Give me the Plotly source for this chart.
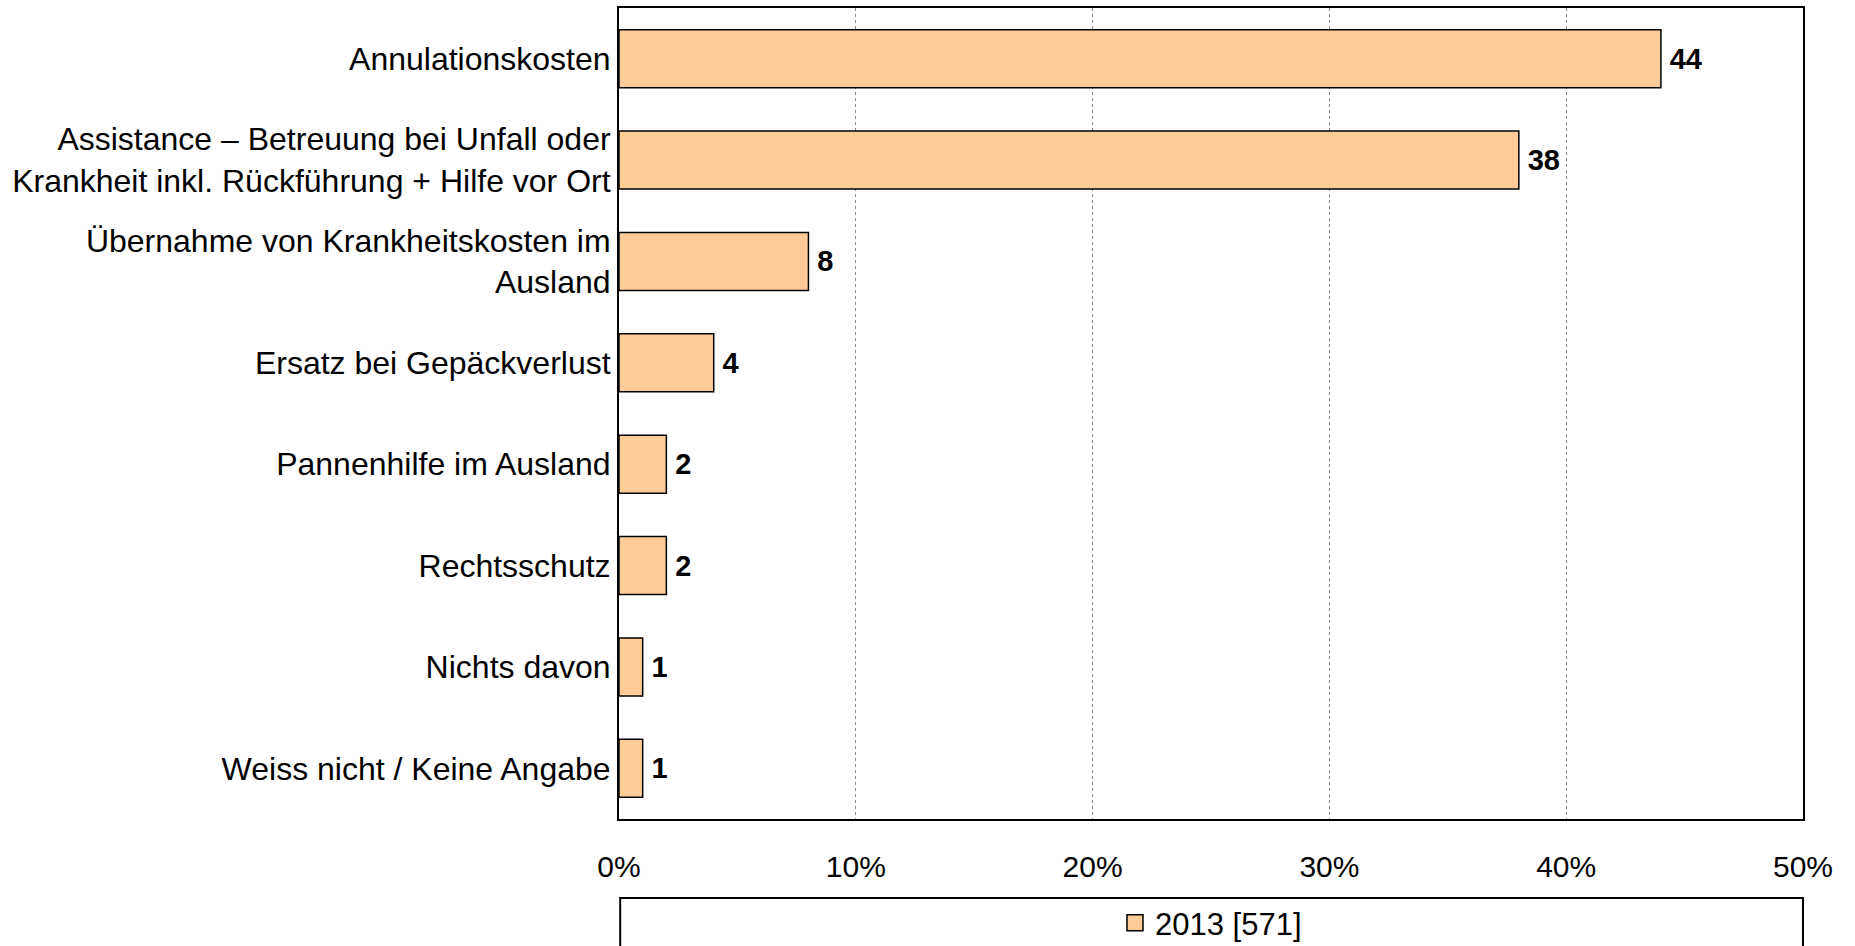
import plotly.graph_objects as go

categories = [
    "Annulationskosten",
    "Assistance – Betreuung bei Unfall oder<br>Krankheit inkl. Rückführung + Hilfe vor Ort",
    "Übernahme von Krankheitskosten im<br>Ausland",
    "Ersatz bei Gepäckverlust",
    "Pannenhilfe im Ausland",
    "Rechtsschutz",
    "Nichts davon",
    "Weiss nicht / Keine Angabe",
]
values_2013 = [44, 38, 8, 4, 2, 2, 1, 1]
series_name = "2013 [571]"
x_ticks = [0, 10, 20, 30, 40, 50]
x_tick_labels = ["0%", "10%", "20%", "30%", "40%", "50%"]

FONT = "Liberation Sans, Arial, sans-serif"
BAR_COLOR = "#FFCC99"

fig = go.Figure()
fig.add_trace(go.Bar(
    y=categories,
    x=values_2013,
    orientation="h",
    name=series_name,
    showlegend=False,
    marker=dict(color=BAR_COLOR, line=dict(color="black", width=1.5)),
    text=[f"\u2009<b>{v}</b>" for v in values_2013],
    textposition="outside",
    textfont=dict(family=FONT, size=29, color="black"),
    cliponaxis=False,
))
# legend entry with a larger square swatch
fig.add_trace(go.Scatter(
    x=[None], y=[None], mode="markers", name=series_name,
    marker=dict(symbol="square", size=18, color=BAR_COLOR,
                line=dict(color="black", width=1.5)),
    hoverinfo="skip",
))

W, H = 1855, 946
ml, mr, mt, mb = 619, 52, 8, 127
ph = H - mt - mb

def py(pix):
    return (H - mb - pix) / ph

fig.update_layout(
    width=W, height=H,
    margin=dict(l=ml, r=mr, t=mt, b=mb, autoexpand=False),
    paper_bgcolor="white", plot_bgcolor="white",
    font=dict(family=FONT, size=30, color="black"),
    bargap=0.427,
    showlegend=True,
    legend=dict(
        orientation="h", x=0.5, xanchor="center",
        y=py(923), yanchor="middle",
        font=dict(family=FONT, size=31, color="black"),
        bgcolor="rgba(0,0,0,0)",
        itemwidth=30,
    ),
    xaxis=dict(
        range=[0, 50], tickvals=x_ticks, ticktext=x_tick_labels,
        showgrid=True, gridcolor="#888888", griddash="dot", gridwidth=1,
        showline=True, linecolor="black", linewidth=2, mirror=True,
        zeroline=False, ticks="", ticklabelstandoff=20,
        tickfont=dict(family=FONT, size=30, color="black"),
        fixedrange=True, automargin=False,
    ),
    yaxis=dict(
        autorange="reversed",
        showgrid=False, showline=True, linecolor="black", linewidth=2, mirror=True,
        ticks="", ticklabelstandoff=0,
        tickfont=dict(family=FONT, size=32, color="black"),
        fixedrange=True, automargin=False,
    ),
    shapes=[dict(
        type="rect", xref="paper", yref="paper",
        x0=0.001, x1=1.0, y0=py(898), y1=py(1000),
        line=dict(color="black", width=2), fillcolor="rgba(0,0,0,0)",
        layer="below",
    )],
)

fig.write_html(
    "out.html",
    config={"displayModeBar": False},
    post_script="document.body.style.margin='0';document.body.style.overflow='hidden';",
)
